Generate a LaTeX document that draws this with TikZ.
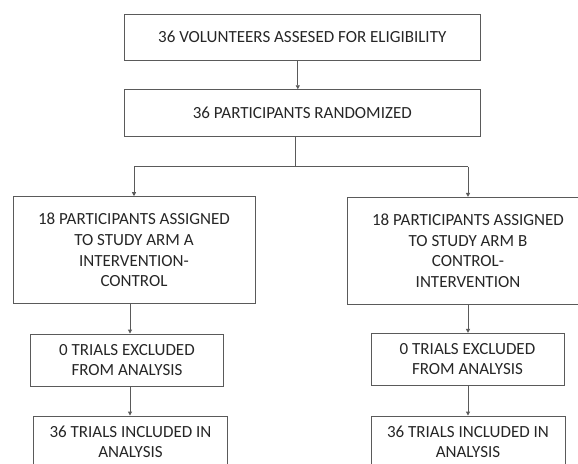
\documentclass[tikz,border=0pt]{standalone}
\usepackage{fontspec}
\setmainfont{Carlito}
\usetikzlibrary{arrows.meta}
\begin{document}
\begin{tikzpicture}[x=1pt,y=-1pt,
  box/.style={draw=linegray,line width=0.9pt,inner sep=0pt,align=center,
    font=\fontsize{17}{20.6}\selectfont,text=textgray},
  arr/.style={draw=linegray,line width=0.9pt,-{Triangle[length=4pt,width=4pt]}},
  ln/.style={draw=linegray,line width=0.9pt}]
\definecolor{linegray}{HTML}{5A5A5A}
\definecolor{textgray}{HTML}{262626}
\useasboundingbox (0,0) rectangle (578,463);
\clip (0,0) rectangle (578,463);
\node[box,minimum width=356pt,minimum height=46pt] (b1) at (302.3,37.3) {36 VOLUNTEERS ASSESED FOR ELIGIBILITY};
\node[box,minimum width=356pt,minimum height=47pt] (b2) at (302.3,113.2) {36 PARTICIPANTS RANDOMIZED};
\node[box,minimum width=242pt,minimum height=106.7pt] (a1) at (134,250) {18 PARTICIPANTS ASSIGNED\\TO STUDY ARM A\\INTERVENTION-\\CONTROL};
\node[box,minimum width=242pt,minimum height=106.7pt] (c1) at (468,250.7) {18 PARTICIPANTS ASSIGNED\\TO STUDY ARM B\\CONTROL-\\INTERVENTION};
\node[box,minimum width=193pt,minimum height=52pt] (a2) at (127,360) {0 TRIALS EXCLUDED\\FROM ANALYSIS};
\node[box,minimum width=193pt,minimum height=51.7pt] (c2) at (467.5,359.2) {0 TRIALS EXCLUDED\\FROM ANALYSIS};
\node[box,minimum width=194pt,minimum height=52pt] (a3) at (130.5,442) {36 TRIALS INCLUDED IN\\ANALYSIS};
\node[box,minimum width=194pt,minimum height=52pt] (c3) at (468,442) {36 TRIALS INCLUDED IN\\ANALYSIS};
\coordinate (split) at ([xshift=-7.3pt]b2.south |- 0,166.7);
\draw[arr] ([xshift=-4.5pt]b1.south) -- ([xshift=-4.5pt]b1.south |- b2.north);
\draw[ln] ([xshift=-7.3pt]b2.south) -- (split);
\draw[ln] (a1.north |- split) -- (split) -- (c1.north |- split);
\draw[arr] (a1.north |- split) -- (a1.north);
\draw[arr] (c1.north |- split) -- (c1.north);
\draw[arr] ([xshift=-4pt]a1.south) -- ([xshift=-4pt]a1.south |- a2.north);
\draw[arr] ([xshift=-4pt]a1.south |- a2.south) -- ([xshift=-4pt]a1.south |- a3.north);
\draw[arr] (c1.south) -- (c1.south |- c2.north);
\draw[arr] (c1.south |- c2.south) -- (c1.south |- c3.north);
\end{tikzpicture}
\end{document}
